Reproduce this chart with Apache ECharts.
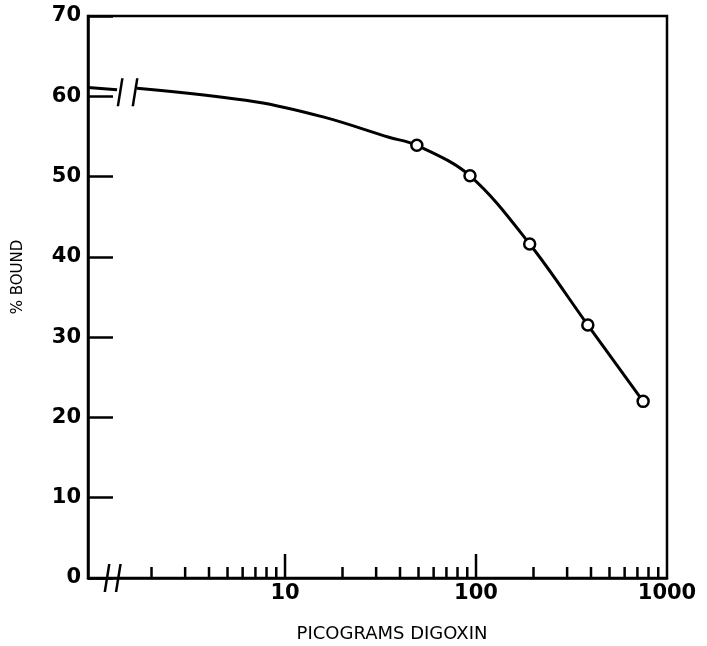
<!DOCTYPE html>
<html><head><meta charset="utf-8">
<script src="https://cdn.jsdelivr.net/npm/echarts@6/dist/echarts.min.js"></script>
<style>html,body{margin:0;background:#fff}#c{width:707px;height:646px}</style>
</head><body><div id="c"></div>
<script>
// ---- data ----
const yTickValues = [0, 10, 20, 30, 40, 50, 60, 70];
const xLabelValues = [10, 100, 1000];
const majorTickX = [10, 100];
const minorTickX = [2, 3, 4, 5, 6, 7, 8, 9, 20, 30, 40, 50, 60, 70, 80, 90, 200, 300, 400, 500, 600, 700, 800, 900];
// fitted curve (hand-drawn line through the points)
const curveX = [1.68, 7.1, 16, 35, 49, 93, 191, 385, 750];
const curveY = [61.0, 59.3, 57.4, 54.9, 53.9, 50.1, 41.6, 31.5, 22.0];
// measured points (open circles)
const pointX = [49, 93, 191, 385, 750];
const pointY = [53.9, 50.1, 41.6, 31.5, 22.0];
// zero-dose segment before the axis break
const zeroX = [0.93, 1.32];
const zeroY = [61.1, 60.8];
// break marks
const breakCurveX = [1.37, 1.64];
const breakCurveY = [60.5, 60.5];
const breakAxisX = [1.17, 1.34];
const breakAxisY = [0, 0];

const xTitle = 'PICOGRAMS DIGOXIN';
const yTitle = '% BOUND';

const pair = (xs, ys) => xs.map((x, i) => [x, ys[i]]);
const chart = echarts.init(document.getElementById('c'), null, {renderer: 'canvas'});
const labelFont = {fontFamily: 'DejaVu Sans', fontWeight: 'bold', fontSize: 21, color: '#000'};
const slash = 'path://M4.5,0 L7,0 L2.5,28 L0,28 Z';

chart.setOption({
  animation: false,
  backgroundColor: '#fff',
  grid: {left: 88, right: 40, top: 16, bottom: 68, show: true, borderColor: '#000', borderWidth: 2.5},
  xAxis: {
    type: 'log', logBase: 10, min: 0.93, max: 1000,
    axisLine: {show: true, lineStyle: {color: '#000', width: 2.5}},
    axisTick: {show: false},
    minorTick: {show: false},
    splitLine: {show: false},
    axisLabel: Object.assign({}, labelFont, {
      margin: 5,
      formatter: v => (xLabelValues.some(t => Math.abs(t - v) / t < 0.01) ? String(Math.round(v)) : '')
    })
  },
  yAxis: {
    type: 'value', min: yTickValues[0], max: yTickValues[yTickValues.length - 1], interval: 10,
    axisLine: {show: true, lineStyle: {color: '#000', width: 2.5}},
    axisTick: {show: true, inside: true, length: 25, lineStyle: {color: '#000', width: 2.5}},
    splitLine: {show: false},
    axisLabel: Object.assign({}, labelFont, {margin: 7})
  },
  graphic: [
    {type: 'text', x: 18, y: 277, rotation: Math.PI / 2,
     style: {text: yTitle, fontFamily: 'DejaVu Sans', fontSize: 15, fill: '#000', align: 'center', verticalAlign: 'middle'}},
    {type: 'text', x: 392, y: 634,
     style: {text: xTitle, fontFamily: 'DejaVu Sans', fontSize: 18, fill: '#000', align: 'center', verticalAlign: 'middle'}}
  ],
  series: [
    {type: 'line', data: pair(curveX, curveY), smooth: 0.35, symbol: 'none',
     lineStyle: {color: '#000', width: 3}, z: 3},
    {type: 'line', data: pair(zeroX, zeroY), symbol: 'none',
     lineStyle: {color: '#000', width: 3}, z: 3},
    {type: 'scatter', data: pair(pointX, pointY), symbol: 'circle', symbolSize: 11,
     itemStyle: {color: '#fff', borderColor: '#000', borderWidth: 2.5, opacity: 1}, z: 5},
    {type: 'scatter', data: pair(breakCurveX, breakCurveY), symbol: slash, symbolSize: [7, 28],
     itemStyle: {color: '#000', opacity: 1}, z: 4, clip: false},
    {type: 'scatter', data: pair(breakAxisX, breakAxisY), symbol: slash, symbolSize: [7, 28],
     itemStyle: {color: '#000', opacity: 1}, z: 4, clip: false},
    {type: 'scatter', data: majorTickX.map(x => [x, 0]), symbol: 'rect', symbolSize: [2.5, 24],
     symbolOffset: [0, '-50%'], itemStyle: {color: '#000', opacity: 1}, z: 4, clip: false, silent: true},
    {type: 'scatter', data: minorTickX.map(x => [x, 0]), symbol: 'rect', symbolSize: [2.5, 11],
     symbolOffset: [0, '-50%'], itemStyle: {color: '#000', opacity: 1}, z: 4, clip: false, silent: true}
  ]
});
</script></body></html>
